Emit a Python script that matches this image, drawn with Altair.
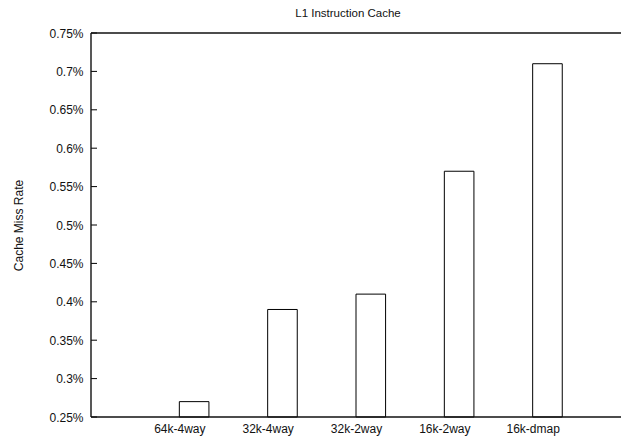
import altair as alt
import pandas as pd

# Cache configurations and their L1 instruction-cache miss rates (percent)
configs = ["64k-4way", "32k-4way", "32k-2way", "16k-2way", "16k-dmap"]
miss_rate = [0.27, 0.39, 0.41, 0.57, 0.71]
y_ticks = [0.25, 0.3, 0.35, 0.4, 0.45, 0.5, 0.55, 0.6, 0.65, 0.7, 0.75]

FONT = "Liberation Sans"
BAR_WIDTH = 0.335
W, H = 530, 384

bars_df = pd.DataFrame({
    "config": configs,
    "pos": list(range(1, len(configs) + 1)),
    "rate": miss_rate,
})
bars_df["pos_end"] = bars_df["pos"] + BAR_WIDTH
ticks_df = pd.DataFrame({"rate": y_ticks})

x_scale = alt.Scale(domain=[0, 6], nice=False, zero=False)
y_scale = alt.Scale(domain=[0.25, 0.75], nice=False, zero=False)

x_label_expr = "[''," + ",".join("'" + c + "'" for c in configs) + "][datum.value]"

x_axis = alt.Axis(
    values=list(range(1, len(configs) + 1)),
    labelExpr=x_label_expr,
    ticks=False, domain=False, grid=False,
    labelPadding=6, labelFontSize=12, labelFont=FONT, labelColor="#111",
    title=None,
)
y_axis = alt.Axis(
    values=y_ticks,
    labelExpr="datum.value + '%'",
    ticks=False, domain=False, grid=False,
    labelPadding=8, labelFontSize=12, labelFont=FONT, labelColor="#111",
    title="Cache Miss Rate", titleFont=FONT, titleFontSize=12,
    titleFontWeight="normal", titleColor="#111",
    titleX=-73, titleY=192, titleAngle=-90,
    titleAlign="center", titleBaseline="middle",
)

bars = alt.Chart(bars_df).mark_rect(
    fill="white", stroke="black", strokeWidth=1
).encode(
    x=alt.X("pos:Q", scale=x_scale, axis=x_axis),
    x2="pos_end:Q",
    y=alt.Y("rate:Q", scale=y_scale, axis=y_axis),
    y2=alt.datum(0.25),
)

# short inward tick marks along the left border
inner_ticks = alt.Chart(ticks_df).mark_rule(color="black", strokeWidth=1).encode(
    y=alt.Y("rate:Q", scale=y_scale, axis=y_axis),
    x=alt.value(0),
    x2=alt.value(6),
)

# plot frame: left, top and bottom edges (the right edge runs off the canvas)
frame_style = dict(color="#111", strokeWidth=1.4)
left_edge = alt.Chart().mark_rule(**frame_style).encode(
    x=alt.value(0), y=alt.value(0), y2=alt.value(H)
)
top_edge = alt.Chart().mark_rule(**frame_style).encode(
    x=alt.value(0), x2=alt.value(W + 5), y=alt.value(0)
)
bottom_edge = alt.Chart().mark_rule(**frame_style).encode(
    x=alt.value(0), x2=alt.value(W + 5), y=alt.value(H)
)

chart = alt.layer(bars, inner_ticks, left_edge, top_edge, bottom_edge).properties(
    width=W,
    height=H,
    autosize=alt.AutoSizeParams(type="none"),
    padding={"left": 91, "top": 33, "right": 0, "bottom": 21},
    background="white",
    title=alt.TitleParams(
        "L1 Instruction Cache", font=FONT, fontSize=11.5, fontWeight="normal",
        color="#111", offset=8, dx=-8,
    ),
).configure_view(
    strokeWidth=0
)

chart.save("out.html", embed_options={"renderer": "svg", "actions": False})
